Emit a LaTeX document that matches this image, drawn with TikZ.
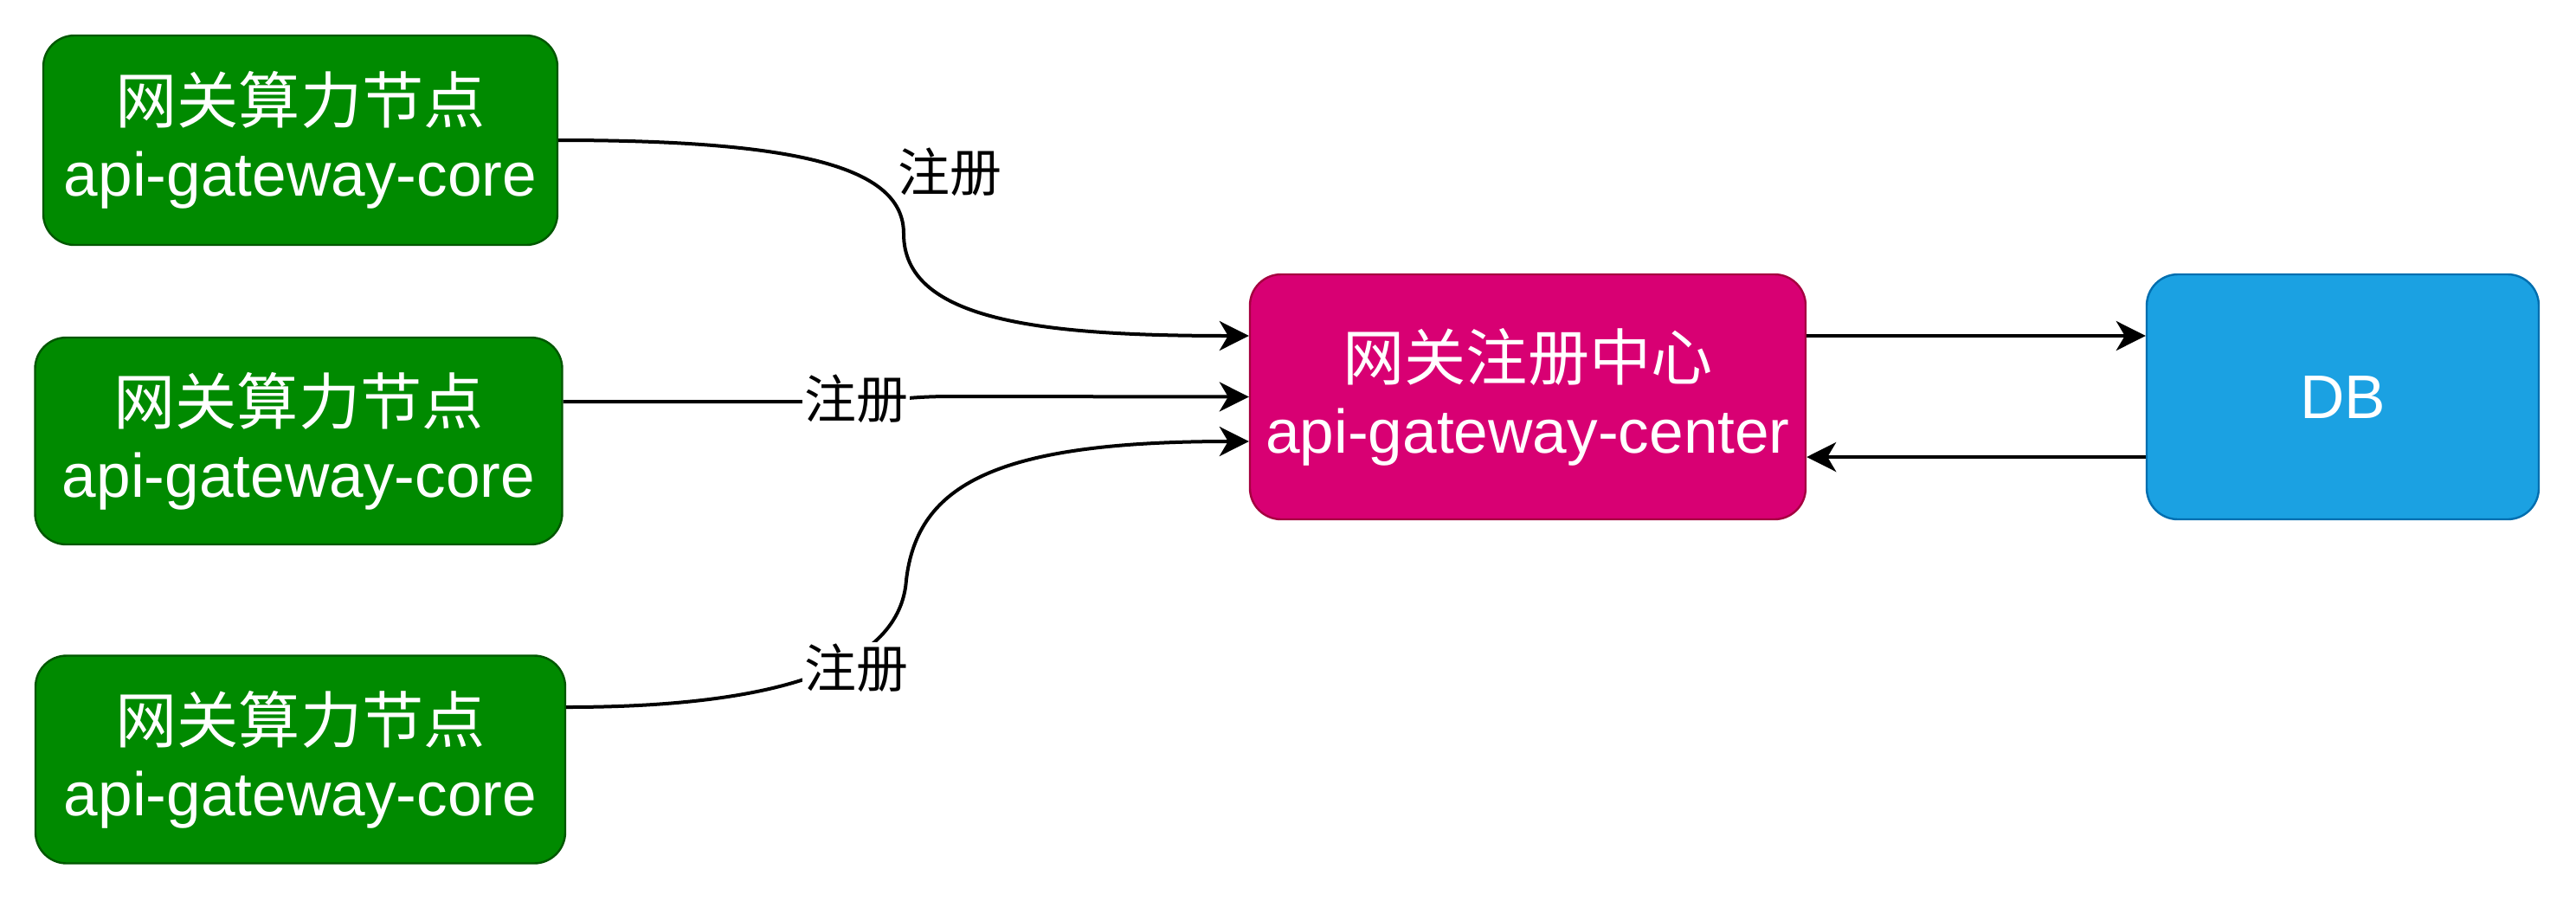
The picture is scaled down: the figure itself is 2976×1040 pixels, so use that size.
\documentclass[tikz,border=0pt]{standalone}
\usepackage{fontspec}
\setmainfont{Liberation Sans}
\newfontfamily\cjk{Noto Sans CJK SC}
\usetikzlibrary{arrows.meta}
\definecolor{gfill}{HTML}{008A00}
\definecolor{gline}{HTML}{005700}
\definecolor{pfill}{HTML}{D80073}
\definecolor{pline}{HTML}{A50040}
\definecolor{bfill}{HTML}{1BA1E2}
\definecolor{bline}{HTML}{006EAF}
\tikzset{
  box/.style={rectangle, rounded corners=18pt, line width=1.2pt, text=white, align=center,
    inner sep=0pt, font=\fontsize{35.6pt}{42pt}\selectfont},
  core/.style={box, fill=gfill, draw=gline},
  center/.style={box, fill=pfill, draw=pline},
  db/.style={box, fill=bfill, draw=bline},
  conn/.style={line width=2pt, -{Stealth[length=17pt,width=17pt,inset=5pt]}},
  lbl/.style={font=\fontsize{30pt}{36pt}\selectfont\cjk, inner sep=1pt}
}
\begin{document}
\begin{tikzpicture}[x=0.5pt,y=-0.5pt]
\useasboundingbox (0,0) rectangle (2976,1040);
\node[core, minimum width=297pt, minimum height=121pt] (b1) at (347,162) {{\cjk 网关算力节点}\\api-gateway-core};
\node[core, minimum width=304.5pt, minimum height=119.5pt] (b2) at (345,509.5) {{\cjk 网关算力节点}\\api-gateway-core};
\node[core, minimum width=306pt, minimum height=120pt] (b3) at (347,877.5) {{\cjk 网关算力节点}\\api-gateway-core};
\node[center, minimum width=321pt, minimum height=141.5pt] (c) at (1765,458.5) {{\cjk 网关注册中心}\\api-gateway-center};
\node[db, minimum width=226.5pt, minimum height=141.5pt] (d) at (2706.5,458.5) {DB};

\draw[conn] (b1.east) .. controls (930,162) and (1044,195) .. (1044,270)
  .. controls (1044,370) and (1200,388) .. ([yshift=35.25pt]c.west);
\node[lbl] (l1) at (1097,199) {注册};

\draw[conn] ([yshift=22.75pt]b2.east) -- (960,464) .. controls (1040,464) and (1040,458) .. (1100,458) -- (c.west);
\node[lbl, fill=white] (l2) at (989,461) {注册};

\draw[conn] ([yshift=30.25pt]b3.east) .. controls (900,817) and (1040,770) .. (1047,670)
  .. controls (1060,560) and (1150,510) .. ([yshift=-25.75pt]c.west);
\node[lbl, fill=white] (l3) at (989,772) {注册};

\draw[conn] ([yshift=35.25pt]c.east) -- ([yshift=35.25pt]d.west);
\draw[conn] ([yshift=-34.75pt]d.west) -- ([yshift=-34.75pt]c.east);
\end{tikzpicture}
\end{document}
